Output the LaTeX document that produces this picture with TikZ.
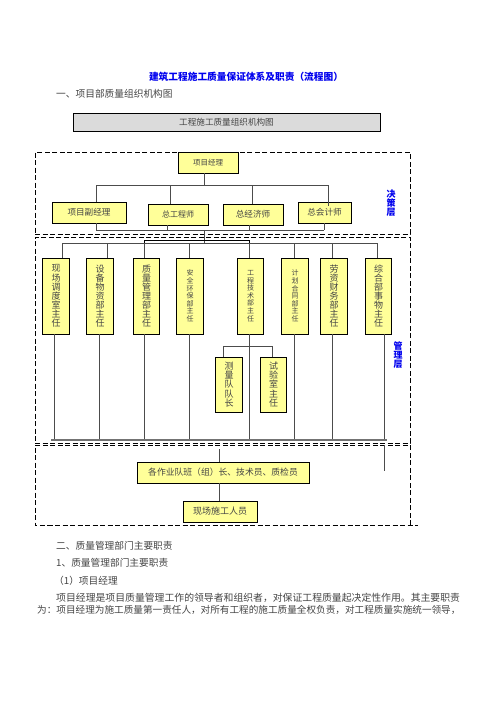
\documentclass[tikz,border=0pt]{standalone}
\usepackage{fontspec}
\setmainfont{Noto Sans CJK SC}
\usetikzlibrary{calc}
\definecolor{boxyellow}{HTML}{FFFF99}
\definecolor{txtgray}{HTML}{444444}
\definecolor{lnblue}{HTML}{0000EE}
\begin{document}
\begin{tikzpicture}[x=1pt,y=-1pt,
  ybox/.style={draw=black,line width=0.8pt,fill=boxyellow,inner sep=0pt,text=txtgray},
  vbox/.style={ybox,minimum width=26.5pt,minimum height=76pt,align=center,font=\fontsize{9}{9.1}\selectfont},
  vsmall/.style={vbox,font=\fontsize{7}{7.6}\selectfont},
  conn/.style={draw=black!70,line width=0.8pt},
  dashbox/.style={draw=black,line width=0.9pt,dash pattern=on 5pt off 2.5pt},
  plain/.style={text=txtgray,inner sep=0pt,anchor=west,font=\fontsize{9.7}{10}\selectfont},
  layer/.style={text=lnblue,inner sep=0pt,align=center,font=\fontsize{9}{9}\selectfont\bfseries}]
\useasboundingbox (0,0) rectangle (496,702);
\fill[white] (0,0) rectangle (496,702);

% title and heading
\node[inner sep=0pt,text=lnblue,font=\fontsize{9.7}{10}\selectfont\bfseries] (title) at (246,77) {建筑工程施工质量保证体系及职责（流程图）};
\node[plain] (h1) at (56,94) {一、项目部质量组织机构图};

% header bar
\node[draw=black,line width=1pt,fill=black!14,minimum width=307pt,minimum height=18pt,inner sep=0pt,text=txtgray,font=\fontsize{8.6}{9}\selectfont] (hdr) at (226.5,122) {工程施工质量组织机构图};

% dashed layers
\node[dashbox,minimum width=375pt,minimum height=82pt,inner sep=0pt] (layA) at (222.5,193) {};
\node[dashbox,minimum width=375pt,minimum height=206pt,inner sep=0pt] (layB) at (222.5,340) {};
\draw[dashbox] (410,525) -- (410,445) -- (35,445) -- (35,525) -- (418,525);
\coordinate (layCtl) at (35,445);

\node[layer] (jc) at (391,203) {决\\策\\层};
\node[layer] (gl) at (398,355) {管\\理\\层};

% decision layer boxes
\node[ybox,minimum width=60pt,minimum height=21pt,font=\fontsize{7.5}{8}\selectfont] (pm) at (208,162.5) {项目经理};
\node[ybox,minimum width=74pt,minimum height=21pt,font=\fontsize{8.6}{9}\selectfont] (vpm) at (89,212.5) {项目副经理};
\node[ybox,minimum width=60pt,minimum height=21pt,font=\fontsize{8}{9}\selectfont] (ce) at (178,214.5) {总工程师};
\node[ybox,minimum width=60pt,minimum height=21pt,font=\fontsize{8.6}{9}\selectfont] (eco) at (253,214.5) {总经济师};
\node[ybox,minimum width=53pt,minimum height=21pt,font=\fontsize{8.6}{9}\selectfont] (cfo) at (324.5,212.5) {总会计师};

\coordinate (busA) at (96,185);
\coordinate (busAr) at (328,185);
\draw[conn] (busA) -- (busAr);
\draw[conn] (pm.south -| 204,0) -- (204,185);
\draw[conn] (busA) -- (vpm.north -| busA);
\draw[conn] (170,185) -- (ce.north -| 170,0);
\draw[conn] (252,185) -- (eco.north -| 252,0);
\draw[conn] (busAr) -- (328,206);

\coordinate (busB) at (96,230);
\coordinate (busBr) at (324,230);
\draw[conn] (busB) -- (busBr);
\draw[conn] (vpm.south -| busB) -- (busB);
\draw[conn] (ce.south -| 167,0) -- (167,230);
\draw[conn] (eco.south -| 249,0) -- (249,230);
\draw[conn] (cfo.south) -- (cfo.south |- busBr);
\coordinate (trunk) at (204,230);
\coordinate (busC) at (62,243);
\coordinate (busCr) at (377,243);
\draw[conn] (trunk) -- (204,243);
\draw[conn] (busC) -- (busCr);
\draw[draw=black,line width=0.8pt] (144,243) -- (144,240) -- (249,240) -- (249,243);

% management boxes
\node[vbox] (m1) at (56,296) {现\\场\\调\\度\\室\\主\\任};
\node[vbox] (m2) at (100,296) {设\\备\\物\\资\\部\\主\\任};
\node[vbox] (m3) at (146.5,296) {质\\量\\管\\理\\部\\主\\任};
\node[vsmall] (m4) at (190,296) {安\\全\\环\\保\\部\\主\\任};
\node[vsmall] (m5) at (250.5,296) {工\\程\\技\\术\\部\\主\\任};
\node[vsmall] (m6) at (295,296) {计\\划\\合\\同\\部\\主\\任};
\node[vbox] (m7) at (334,296) {劳\\资\\财\\务\\部\\主\\任};
\node[vbox] (m8) at (378.5,296) {综\\合\\部\\事\\物\\主\\任};

\foreach \n/\x in {m1/62,m2/107,m3/144,m4/189,m5/249,m6/294,m7/332,m8/377}{
  \draw[conn] (\x,243) -- (\n.north -| \x,0);
}

% sub boxes
\node[vbox,minimum height=55pt] (s1) at (229,384.5) {测\\量\\队\\队\\长};
\node[vbox,minimum height=55pt] (s2) at (273.5,384.5) {试\\验\\室\\主\\任};
\draw[conn] (s1.north -| 223,0) -- (223,346) -- (272,346) -- (s2.north -| 272,0);

% lower connectors
\coordinate (busD) at (51,440);
\coordinate (busDr) at (387,440);
\foreach \n/\x in {m1/54,m2/99,m3/144,m4/189,m5/249,m6/294,m7/332,m8/384}{
  \draw[conn] (\n.south -| \x,0) -- (\x,440);
}
\draw[draw=black!55,line width=1.6pt] (busD) -- (busDr);

% operational layer
\node[ybox,minimum width=172pt,minimum height=21pt,font=\fontsize{8.8}{9}\selectfont] (work) at (223,472.5) {各作业队班（组）长、技术员、质检员};
\node[ybox,minimum width=74pt,minimum height=21pt,font=\fontsize{9}{9}\selectfont] (site) at (220,511.5) {现场施工人员};
\coordinate (wt) at (219,449);
\draw[conn] (wt) -- (work.north -| wt);
\draw[conn] (work.south -| wt) -- (site.north -| wt);
\coordinate (rt) at (384,445);
\draw[conn] (rt) -- (384,471);

% text below
\node[plain] (t1) at (56,546) {二、质量管理部门主要职责};
\node[plain] (t2) at (56,563) {1、质量管理部门主要职责};
\node[plain] (t3) at (54,581) {（1）项目经理};
\node[plain,font=\fontsize{9.85}{10}\selectfont] (t4) at (56,598) {项目经理是项目质量管理工作的领导者和组织者，对保证工程质量起决定性作用。其主要职责};
\node[plain,font=\fontsize{9.62}{10}\selectfont] (t5) at (37,610) {为：项目经理为施工质量第一责任人，对所有工程的施工质量全权负责，对工程质量实施统一领导，};
\end{tikzpicture}
\end{document}
